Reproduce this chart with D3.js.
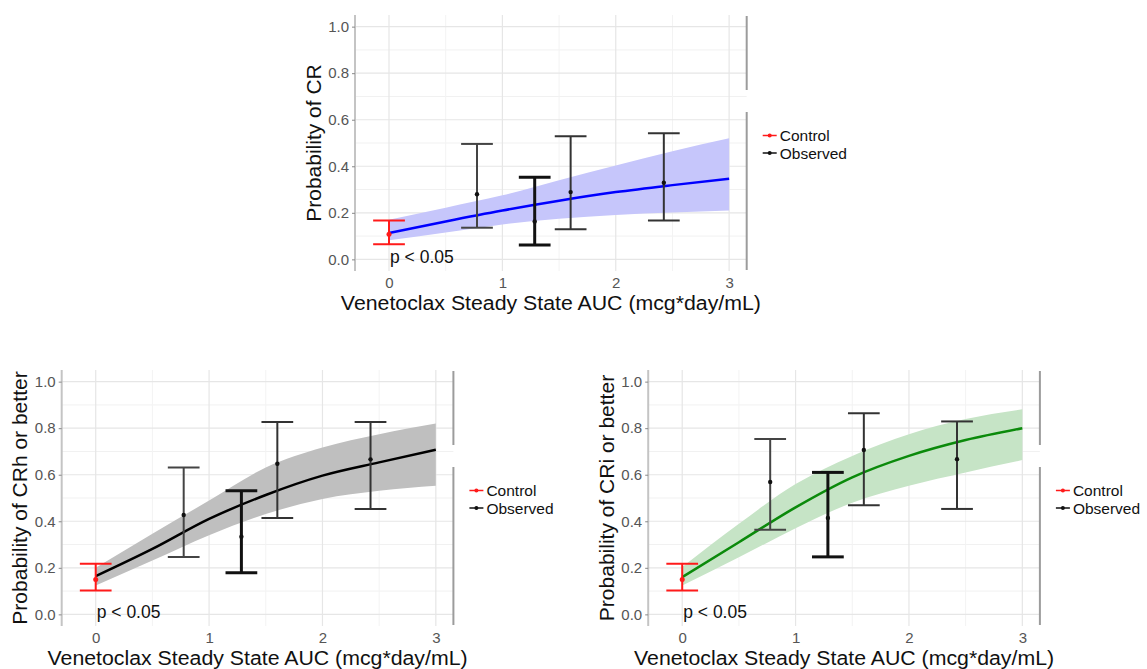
<!DOCTYPE html>
<html>
<head>
<meta charset="utf-8">
<script src="https://cdn.jsdelivr.net/npm/d3@7"></script>
<style>
  html, body { margin: 0; padding: 0; background: #fff; }
  svg { display: block; font-family: "Liberation Sans", Arial, Helvetica, sans-serif; }
</style>
</head>
<body>
<svg id="chart" width="1147" height="669"></svg>
<script>
// ---------------- data ----------------
const aucGrid = [0, 0.5, 1, 1.5, 2, 2.5, 3];

// Probability of CR (model fit and 95% band)
const crFit = [0.113, 0.163, 0.210, 0.252, 0.289, 0.319, 0.346];
const crLo  = [0.082, 0.115, 0.150, 0.175, 0.191, 0.201, 0.210];
const crHi  = [0.170, 0.222, 0.275, 0.340, 0.403, 0.465, 0.520];

// Probability of CRh or better
const crhFit = [0.164, 0.281, 0.410, 0.513, 0.596, 0.653, 0.707];
const crhLo  = [0.124, 0.231, 0.340, 0.431, 0.496, 0.531, 0.553];
const crhHi  = [0.200, 0.346, 0.489, 0.631, 0.717, 0.774, 0.820];

// Probability of CRi or better
const criFit = [0.160, 0.310, 0.460, 0.589, 0.681, 0.749, 0.800];
const criLo  = [0.124, 0.245, 0.370, 0.480, 0.553, 0.610, 0.663];
const criHi  = [0.203, 0.389, 0.560, 0.681, 0.774, 0.839, 0.881];

// Control arm (x = 0)
const ctrlX = 0;
const crCtrl  = { est: 0.108, lo: 0.065, hi: 0.167 };
const crhCtrl = { est: 0.150, lo: 0.103, hi: 0.217 };
const criCtrl = { est: 0.150, lo: 0.103, hi: 0.217 };

// Observed exposure bins
const obsAuc = [0.776, 1.285, 1.602, 2.424];
const crObs    = [0.280, 0.163, 0.289, 0.329];
const crObsLo  = [0.136, 0.062, 0.129, 0.167];
const crObsHi  = [0.496, 0.353, 0.529, 0.542];
const crhObs   = [0.427, 0.334, 0.647, 0.666];
const crhObsLo = [0.247, 0.179, 0.414, 0.453];
const crhObsHi = [0.631, 0.531, 0.827, 0.827];
const criObs   = [0.569, 0.414, 0.706, 0.667];
const criObsLo = [0.364, 0.247, 0.469, 0.453];
const criObsHi = [0.753, 0.610, 0.864, 0.829];

// Axis ticks / labels
const yTicks = [0, 0.2, 0.4, 0.6, 0.8, 1.0];
const yMinor = [0.1, 0.3, 0.5, 0.7, 0.9];
const xTicks = [0, 1, 2, 3];
const xMinor = [0.5, 1.5, 2.5];
const xTitle = "Venetoclax Steady State AUC (mcg*day/mL)";
const legendLabels = ["Control", "Observed"];
const pText = "p < 0.05";
const pPos = { x: 0.29, y: 0.01 };

// ---------------- styles / layout ----------------
const obsStrokeW = [2, 3, 2, 2];
const obsStrokeC = ["#444", "#111", "#333", "#333"];
const capHalf = 0.14;
const W = 391.7, H = 256;

const panels = [
  { tx: 355,   ty: 15,  ytitle: "Probability of CR",
    fit: crFit, lo: crLo, hi: crHi, ctrl: crCtrl,
    obs: crObs, obsLo: crObsLo, obsHi: crObsHi,
    line: "#0000ff", band: "#c6c6fb" },
  { tx: 61.7,  ty: 370, ytitle: "Probability of CRh or better",
    fit: crhFit, lo: crhLo, hi: crhHi, ctrl: crhCtrl,
    obs: crhObs, obsLo: crhObsLo, obsHi: crhObsHi,
    line: "#000000", band: "#bfbfbf" },
  { tx: 648.2, ty: 370, ytitle: "Probability of CRi or better",
    fit: criFit, lo: criLo, hi: criHi, ctrl: criCtrl,
    obs: criObs, obsLo: criObsLo, obsHi: criObsHi,
    line: "#0b8a0b", band: "#c6e4c6" }
];

const svg = d3.select("#chart");
const x = d3.scaleLinear().domain([-0.3, 3.155]).range([0, W]);
const y = d3.scaleLinear().domain([-0.05, 1.05]).range([H, 0]);

panels.forEach(p => {
  const g = svg.append("g").attr("transform", `translate(${p.tx},${p.ty})`);

  // minor grid
  g.selectAll(".ymin").data(yMinor).join("line")
    .attr("x1", 0).attr("x2", W).attr("y1", d => y(d)).attr("y2", d => y(d))
    .attr("stroke", "#f1f1f1").attr("stroke-width", 1);
  g.selectAll(".xmin").data(xMinor).join("line")
    .attr("y1", 0).attr("y2", H).attr("x1", d => x(d)).attr("x2", d => x(d))
    .attr("stroke", "#f3f3f3").attr("stroke-width", 1);
  // major grid
  g.selectAll(".ymaj").data(yTicks).join("line")
    .attr("x1", 0).attr("x2", W).attr("y1", d => y(d)).attr("y2", d => y(d))
    .attr("stroke", "#e6e6e6").attr("stroke-width", 1.2);
  g.selectAll(".xmaj").data(xTicks).join("line")
    .attr("y1", 0).attr("y2", H).attr("x1", d => x(d)).attr("x2", d => x(d))
    .attr("stroke", "#e6e6e6").attr("stroke-width", 1.2);

  // band + fit line
  const rows = aucGrid.map((a, i) => ({ a, f: p.fit[i], lo: p.lo[i], hi: p.hi[i] }));
  g.append("path").datum(rows)
    .attr("d", d3.area().curve(d3.curveMonotoneX)
      .x(d => x(d.a)).y0(d => y(d.lo)).y1(d => y(d.hi)))
    .attr("fill", p.band);
  g.append("path").datum(rows)
    .attr("d", d3.line().curve(d3.curveMonotoneX).x(d => x(d.a)).y(d => y(d.f)))
    .attr("fill", "none").attr("stroke", p.line).attr("stroke-width", 2.5);

  // observed error bars
  const obs = obsAuc.map((a, i) => ({ a, v: p.obs[i], lo: p.obsLo[i], hi: p.obsHi[i], i }));
  const eb = g.selectAll(".obs").data(obs).join("g")
    .attr("stroke", d => obsStrokeC[d.i]).attr("stroke-width", d => obsStrokeW[d.i]);
  eb.append("line").attr("x1", d => x(d.a)).attr("x2", d => x(d.a))
    .attr("y1", d => y(d.lo)).attr("y2", d => y(d.hi));
  eb.append("line").attr("x1", d => x(d.a - capHalf)).attr("x2", d => x(d.a + capHalf))
    .attr("y1", d => y(d.lo)).attr("y2", d => y(d.lo));
  eb.append("line").attr("x1", d => x(d.a - capHalf)).attr("x2", d => x(d.a + capHalf))
    .attr("y1", d => y(d.hi)).attr("y2", d => y(d.hi));
  eb.append("circle").attr("cx", d => x(d.a)).attr("cy", d => y(d.v)).attr("r", 2.2)
    .attr("fill", "#111").attr("stroke", "none");

  // control error bar
  const c = p.ctrl;
  const cg = g.append("g").attr("stroke", "#ff1a1a").attr("stroke-width", 2);
  cg.append("line").attr("x1", x(ctrlX)).attr("x2", x(ctrlX)).attr("y1", y(c.lo)).attr("y2", y(c.hi));
  cg.append("line").attr("x1", x(ctrlX - capHalf)).attr("x2", x(ctrlX + capHalf)).attr("y1", y(c.lo)).attr("y2", y(c.lo));
  cg.append("line").attr("x1", x(ctrlX - capHalf)).attr("x2", x(ctrlX + capHalf)).attr("y1", y(c.hi)).attr("y2", y(c.hi));
  g.append("circle").attr("cx", x(ctrlX)).attr("cy", y(c.est)).attr("r", 2.5).attr("fill", "#ff1a1a");

  // p-value annotation
  g.append("text").attr("x", x(pPos.x)).attr("y", y(pPos.y))
    .attr("text-anchor", "middle").attr("dominant-baseline", "central")
    .attr("font-size", 17.5).attr("fill", "#111").text(pText);

  // left axis line
  g.append("line").attr("x1", 0).attr("x2", 0).attr("y1", 0).attr("y2", H)
    .attr("stroke", "#c4c4c4").attr("stroke-width", 2);
  // right border (with gap)
  g.append("line").attr("x1", W).attr("x2", W).attr("y1", 1).attr("y2", 75)
    .attr("stroke", "#9c9c9c").attr("stroke-width", 2);
  g.append("line").attr("x1", W).attr("x2", W).attr("y1", 97).attr("y2", H - 1)
    .attr("stroke", "#9c9c9c").attr("stroke-width", 2);

  // y axis ticks & labels
  const yax = d3.axisLeft(y).tickValues(yTicks).tickFormat(d3.format(".1f")).tickSize(3).tickPadding(3);
  const ya = g.append("g").call(yax);
  ya.select(".domain").remove();
  ya.selectAll("line").attr("stroke", "#888");
  ya.selectAll("text").attr("font-size", 15).attr("fill", "#555")
    .attr("font-family", "'Liberation Sans', Arial, sans-serif");

  // x axis labels
  const xax = d3.axisBottom(x).tickValues(xTicks).tickFormat(d3.format("d")).tickSize(0).tickPadding(6);
  const xa = g.append("g").attr("transform", `translate(0,${H})`).call(xax);
  xa.select(".domain").remove();
  xa.selectAll("text").attr("font-size", 15).attr("fill", "#555")
    .attr("font-family", "'Liberation Sans', Arial, sans-serif");

  // titles
  g.append("text").attr("x", W / 2).attr("y", H + 38.5).attr("text-anchor", "middle")
    .attr("font-size", 20).attr("textLength", 420).attr("lengthAdjust", "spacingAndGlyphs")
    .attr("fill", "#111").text(xTitle);
  g.append("text").attr("transform", `translate(-42,${H / 2}) rotate(-90)`)
    .attr("text-anchor", "middle").attr("dominant-baseline", "central")
    .attr("font-size", 21).attr("fill", "#111").text(p.ytitle);

  // legend
  const lg = g.append("g").attr("transform", `translate(${W},${H / 2})`);
  const legColors = ["#ff1a1a", "#111"];
  legendLabels.forEach((lab, i) => {
    const yy = -7.5 + i * 17.5;
    lg.append("line").attr("x1", 16).attr("x2", 30).attr("y1", yy).attr("y2", yy)
      .attr("stroke", legColors[i]).attr("stroke-width", 1.5);
    lg.append("circle").attr("cx", 23).attr("cy", yy).attr("r", 2).attr("fill", legColors[i]);
    lg.append("text").attr("x", 33).attr("y", yy).attr("dominant-baseline", "central")
      .attr("font-size", 15.5).attr("fill", "#111").text(lab);
  });
});
</script>
</body>
</html>
